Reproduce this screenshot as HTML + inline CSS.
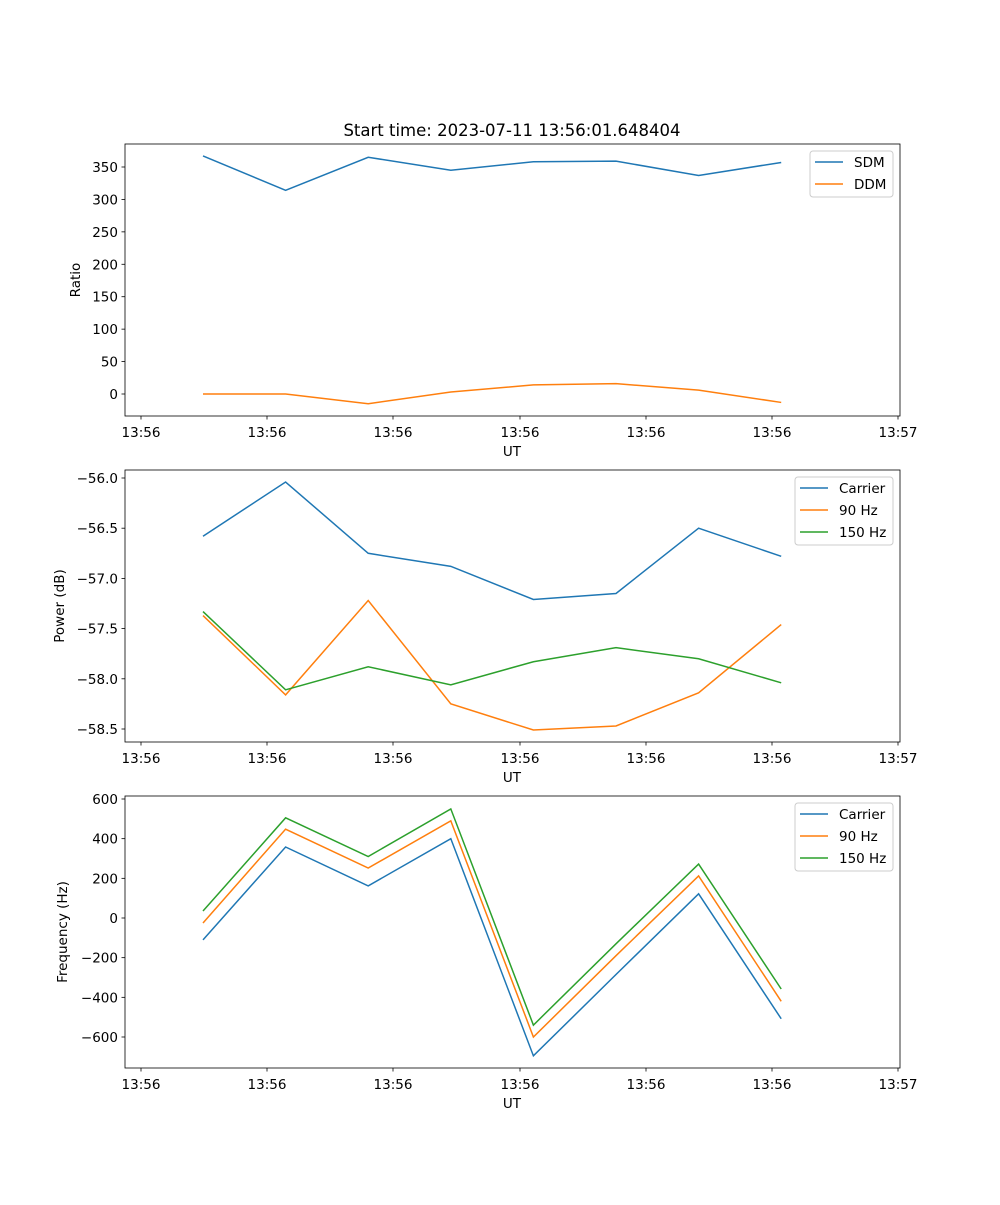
<!DOCTYPE html>
<html><head><meta charset="utf-8"><style>
body{margin:0;background:#fff;font-family:"Liberation Sans","DejaVu Sans",sans-serif;}
svg text{font-family:"DejaVu Sans","Liberation Sans",sans-serif;font-size:13.5px;fill:#000;}
</style></head><body>
<svg id="fig" width="1000" height="1200" xmlns="http://www.w3.org/2000/svg"></svg>
<script>
const xLabels = ["13:56","13:56","13:56","13:56","13:56","13:56","13:57"];
const sdm = [367,314,365,345,358,359,337,357];
const ddm = [0,0,-15,3,14,16,6,-13];
const pwrCarrier = [-56.58,-56.04,-56.75,-56.88,-57.21,-57.15,-56.50,-56.78];
const pwr90 = [-57.37,-58.16,-57.22,-58.25,-58.51,-58.47,-58.14,-57.46];
const pwr150 = [-57.33,-58.11,-57.88,-58.06,-57.83,-57.69,-57.80,-58.04];
const frqCarrier = [-110,358,162,400,-695,-285,122,-508];
const frq90 = [-25,448,252,490,-600,-190,212,-420];
const frq150 = [35,505,310,550,-540,-130,272,-358];
const ratioTicks = [0,50,100,150,200,250,300,350];
const pwrTicks = [-56.0,-56.5,-57.0,-57.5,-58.0,-58.5];
const frqTicks = [600,400,200,0,-200,-400,-600];

const svg = document.getElementById('fig');
const NS = 'http://www.w3.org/2000/svg';
function mk(tag, attrs, parent){const e=document.createElementNS(NS,tag);for(const k in attrs)e.setAttribute(k,attrs[k]);(parent||svg).appendChild(e);return e;}
const L=125,R=900;
const xOf = i => 203 + i*82.6;
const tickX = [141,267,393,520,646,772,898];
const C = ['#1f77b4','#ff7f0e','#2ca02c'];

function panel(name, top, bottom, yv0, yp0, yv1, yp1, yTicks, fmt, ylabel, series, names, legend){
  const y = v => yp0 + (v-yv0)*(yp1-yp0)/(yv1-yv0);
  const g = mk('g',{});
  
  
  series.forEach((s,k)=>{
    const p = mk('polyline',{points:s.map((v,i)=>xOf(i)+','+y(v)).join(' '),fill:'none',stroke:C[k],'stroke-width':1.5},g);
    
    
  });
  mk('rect',{x:L,y:top,width:R-L,height:bottom-top,fill:'none',stroke:'#000','stroke-width':0.8},g);
  yTicks.forEach(v=>{
    const yy=y(v);
    mk('line',{x1:L-3.5,x2:L,y1:yy,y2:yy,stroke:'#000','stroke-width':0.8},g);
    const t=mk('text',{x:L-7,y:yy+5,'text-anchor':'end'},g);t.textContent=fmt(v);
    
    
  });
  tickX.forEach((x,i)=>{
    mk('line',{x1:x,x2:x,y1:bottom,y2:bottom+3.5,stroke:'#000','stroke-width':0.8},g);
    const t=mk('text',{x:x,y:bottom+21,'text-anchor':'middle'},g);t.textContent=xLabels[i];
    
    
  });
  const xl=mk('text',{x:512,y:bottom+40,'text-anchor':'middle'},g);xl.textContent='UT';
  
  
  const cy=(top+bottom)/2;
  const yl=mk('text',{x:legend.yl,y:cy,'text-anchor':'middle',transform:'rotate(-90 '+legend.yl+' '+cy+')'},g);yl.textContent=ylabel;
  
  
  const lg=mk('g',{},g);
  
  
  mk('rect',{x:legend.x,y:top+7,width:893-legend.x,height:names.length*22+2,rx:3,fill:'#fff','fill-opacity':0.8,stroke:'#ccc'},lg);
  names.forEach((n,k)=>{
    const yy=top+18+k*22;
    mk('line',{x1:legend.x+5,x2:legend.x+33,y1:yy,y2:yy,stroke:C[k],'stroke-width':1.5},lg);
    const t=mk('text',{x:legend.x+44,y:yy+5},lg);t.textContent=n;
    
    
  });
}
const title=mk('text',{x:512,y:136,'text-anchor':'middle',style:'font-size:16.5px'});
title.textContent='Start time: 2023-07-11 13:56:01.648404';



panel('ratio-panel',144,416,0,394,350,167,ratioTicks,v=>String(v),'Ratio',[sdm,ddm],['SDM','DDM'],{x:810,yl:80});
panel('power-panel',470,742,-56,478,-58.5,729,pwrTicks,v=>(v<0?'\u2212':'')+Math.abs(v).toFixed(1),'Power (dB)',[pwrCarrier,pwr90,pwr150],['Carrier','90 Hz','150 Hz'],{x:795,yl:64});
panel('frequency-panel',796,1068,600,799,-600,1037,frqTicks,v=>(v<0?'\u2212':'')+Math.abs(v),'Frequency (Hz)',[frqCarrier,frq90,frq150],['Carrier','90 Hz','150 Hz'],{x:795,yl:67});
</script>
</body></html>
